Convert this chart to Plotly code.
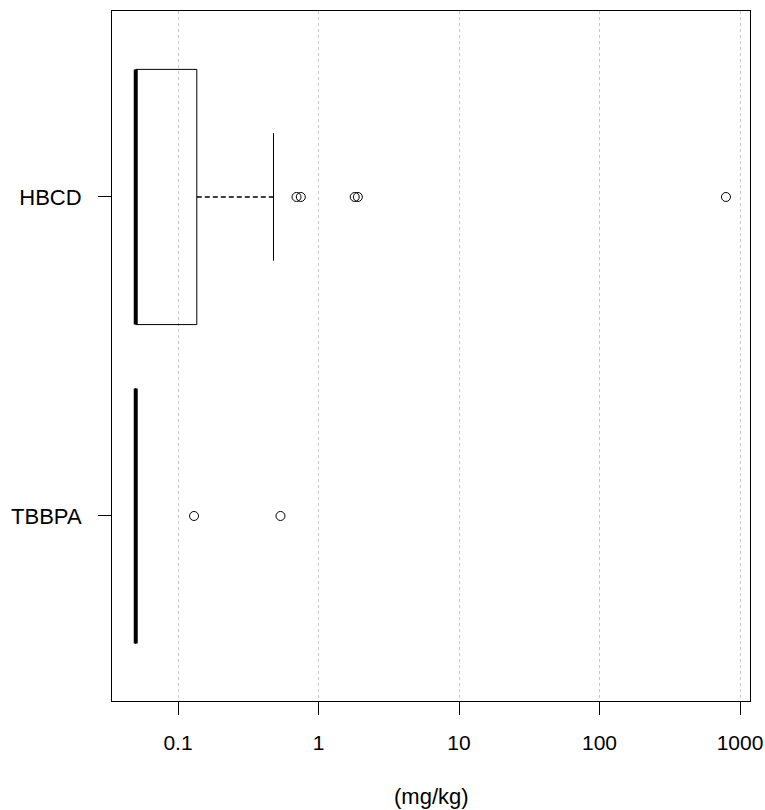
import plotly.graph_objects as go

# ---- data ----
categories = ["TBBPA", "HBCD"]
q1 = [0.05, 0.05]
median = [0.05, 0.05]
q3 = [0.05, 0.136]
lower_whisker = [0.05, 0.05]
upper_whisker = [0.05, 0.478]
outliers = [
    [0.130, 0.536],
    [0.697, 0.748, 1.81, 1.905, 794.0],
]
x_tickvals = [0.1, 1, 10, 100, 1000]
x_ticktext = ["0.1", "1", "10", "100", "1000"]
x_title = "(mg/kg)"

FONT = "Liberation Sans, Arial, sans-serif"
BOX_HALF = 0.4
CAP_HALF = 0.2

fig = go.Figure()

for i, cat in enumerate(categories):
    pos = i + 1
    line_kw = dict(color="black", width=1)
    # box outline
    fig.add_trace(go.Scatter(
        x=[q1[i], q3[i], q3[i], q1[i], q1[i]],
        y=[pos - BOX_HALF, pos - BOX_HALF, pos + BOX_HALF, pos + BOX_HALF, pos - BOX_HALF],
        mode="lines", line=line_kw, showlegend=False, hoverinfo="skip"))
    # whiskers (dashed)
    fig.add_trace(go.Scatter(
        x=[q3[i], upper_whisker[i]], y=[pos, pos],
        mode="lines", line=dict(color="black", width=1.3, dash="5px,3px"),
        showlegend=False, hoverinfo="skip"))
    fig.add_trace(go.Scatter(
        x=[lower_whisker[i], q1[i]], y=[pos, pos],
        mode="lines", line=dict(color="black", width=1.3, dash="5px,3px"),
        showlegend=False, hoverinfo="skip"))
    # caps
    for w in (lower_whisker[i], upper_whisker[i]):
        fig.add_trace(go.Scatter(
            x=[w, w], y=[pos - CAP_HALF, pos + CAP_HALF],
            mode="lines", line=line_kw, showlegend=False, hoverinfo="skip"))
    # median (thick)
    fig.add_trace(go.Scatter(
        x=[median[i], median[i]], y=[pos - BOX_HALF, pos + BOX_HALF],
        mode="lines", line=dict(color="black", width=4),
        showlegend=False, hoverinfo="skip"))
    # outliers
    fig.add_trace(go.Scatter(
        x=outliers[i], y=[pos] * len(outliers[i]),
        mode="markers",
        marker=dict(symbol="circle-open", size=9, color="black", line=dict(width=1, color="black")),
        showlegend=False, name=cat))

fig.update_layout(
    width=765, height=810, autosize=False,
    margin=dict(l=112, r=15, t=11, b=109),
    paper_bgcolor="white", plot_bgcolor="white",
    font=dict(family=FONT, size=22, color="black"),
    xaxis=dict(
        type="log", range=[-1.470, 3.071], automargin=False,
        tickvals=x_tickvals, ticktext=x_ticktext,
        ticks="outside", ticklen=13, tickcolor="black", tickwidth=1,
        ticklabelstandoff=10,
        showline=True, linecolor="black", linewidth=1, mirror=True,
        showgrid=True, gridcolor="#c8c8c8", griddash="3px,3px", gridwidth=1,
        zeroline=False,
        tickfont=dict(family=FONT, size=21, color="black"),
    ),
    yaxis=dict(
        range=[0.42, 2.583], automargin=False,
        tickvals=[1, 2], ticktext=categories,
        ticks="outside", ticklen=13, tickcolor="black", tickwidth=1,
        ticklabelstandoff=12,
        showline=True, linecolor="black", linewidth=1, mirror=True,
        showgrid=False, zeroline=False,
        tickfont=dict(family=FONT, size=22, color="black"),
    ),
    annotations=[dict(
        text=x_title, xref="paper", yref="paper",
        x=0.5, y=-0.139, xanchor="center", yanchor="middle",
        showarrow=False, font=dict(family=FONT, size=22, color="black"))],
)

fig.write_html(
    "out.html",
    config={"responsive": False, "displayModeBar": False},
    post_script="document.body.style.margin='0';document.body.style.overflow='hidden';",
)
